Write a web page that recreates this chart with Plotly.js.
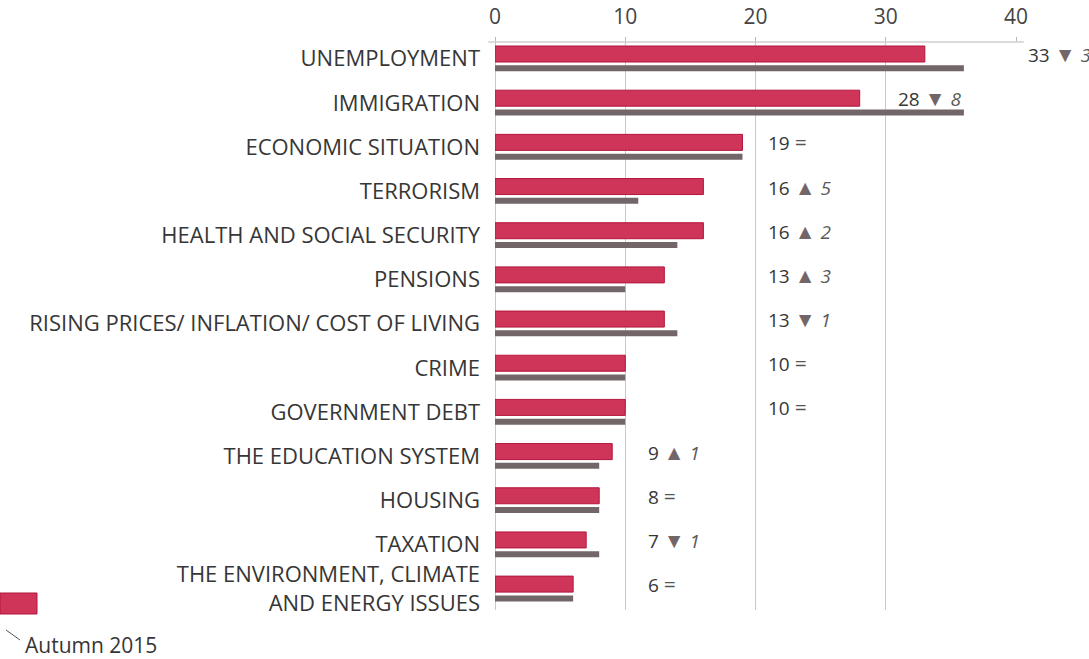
<!DOCTYPE html>
<html>
<head>
<meta charset="utf-8">
<script src="https://cdn.plot.ly/plotly-3.0.1.min.js"></script>
<style>html,body{margin:0;padding:0;background:#fff;}#chart{width:1089px;height:659px;}</style>
</head>
<body>
<div id="chart"></div>
<script>
// ---- data ----
const categories = [
  "UNEMPLOYMENT",
  "IMMIGRATION",
  "ECONOMIC SITUATION",
  "TERRORISM",
  "HEALTH AND SOCIAL SECURITY",
  "PENSIONS",
  "RISING PRICES/ INFLATION/ COST OF LIVING",
  "CRIME",
  "GOVERNMENT DEBT",
  "THE EDUCATION SYSTEM",
  "HOUSING",
  "TAXATION",
  "THE ENVIRONMENT, CLIMATE<br>AND ENERGY ISSUES"
];
const currentValues = [33, 28, 19, 16, 16, 13, 13, 10, 10, 9, 8, 7, 6];
const autumn2015Values = [36, 36, 19, 11, 14, 10, 14, 10, 10, 8, 8, 8, 6];
const xTicks = [0, 10, 20, 30, 40];
const legendLabel = "Autumn 2015";

// ---- style ----
const RED = "#cf3558";
const RED_EDGE = "#b3163d";
const GREY = "#726668";
const TEXT = "#363636";
const FONT = "Open Sans, sans-serif";
const X_MAX = 40;

const traces = [
  {
    type: "bar", orientation: "h",
    y: categories, x: currentValues,
    offset: -0.287, width: 0.362,
    marker: {color: RED, line: {color: RED_EDGE, width: 1}},
    hoverinfo: "x+y", showlegend: false
  },
  {
    type: "bar", orientation: "h",
    y: categories, x: autumn2015Values,
    offset: 0.149, width: 0.136,
    marker: {color: GREY, line: {width: 0}},
    hoverinfo: "x+y", showlegend: false
  }
];

// change annotations
const annotations = currentValues.map((v, i) => {
  const diff = v - autumn2015Values[i];
  let txt;
  if (diff === 0) {
    txt = v + ' <span style="color:#555;font-size:21px">=</span>';
  } else {
    const tri = diff > 0 ? "\u25B2" : "\u25BC";
    txt = v + ' <span style="color:' + GREY + ';font-size:21px">' + tri + '</span> <i><span style="color:#5a5a5a">' + Math.abs(diff) + '</span></i>';
  }
  const col = Math.floor(v / 10) * 10 + 10;
  const digits = String(v).length;
  return {
    xref: "paper", yref: "y",
    x: col / X_MAX, y: i - 0.106,
    xanchor: "left", yanchor: "middle",
    xshift: 10 + (2 - digits) * 11,
    text: txt, showarrow: false,
    font: {family: FONT, size: 19, color: TEXT}
  };
});

annotations.push({
  xref: "paper", yref: "paper",
  x: (23 - 495) / 521, y: (610 - 645) / 568,
  xanchor: "left", yanchor: "middle",
  text: legendLabel, showarrow: false,
  font: {family: FONT, size: 21, color: TEXT}
});

const shapes = [
  // top axis line
  {type: "line", xref: "paper", yref: "paper",
   x0: -0.013, x1: 1.015, y0: 1, y1: 1,
   line: {color: "#b9b4b4", width: 1}},
  // legend swatch (cropped)
  {type: "rect", xref: "paper", yref: "paper",
   x0: (0 - 495) / 521, x1: (37 - 495) / 521,
   y0: (610 - 614) / 568, y1: (610 - 593) / 568,
   fillcolor: RED, line: {color: RED_EDGE, width: 1}},
  {type: "line", xref: "paper", yref: "paper",
   x0: (6 - 495) / 521, y0: (610 - 630) / 568,
   x1: (20 - 495) / 521, y1: (610 - 640) / 568,
   line: {color: "#555", width: 1}}
];

const layout = {
  width: 1089, height: 659,
  margin: {l: 495, r: 73, t: 42, b: 49, pad: 0},
  paper_bgcolor: "#fff", plot_bgcolor: "#fff",
  barmode: "overlay",
  font: {family: FONT, color: TEXT},
  xaxis: {
    side: "top", range: [0, X_MAX],
    tickvals: xTicks, ticktext: xTicks.map(String),
    showgrid: true, gridcolor: "#cdc8c8", gridwidth: 1,
    zeroline: true, zerolinecolor: "#cdc8c8", zerolinewidth: 1,
    showline: false,
    ticks: "outside", ticklen: 4, tickcolor: "#b9b4b4",
    tickfont: {family: FONT, size: 21, color: "#444"},
    ticklabelstandoff: 5,
    fixedrange: true
  },
  yaxis: {
    type: "category",
    categoryorder: "array", categoryarray: categories,
    range: [12.48, -0.378], autorange: false,
    showgrid: false, zeroline: false, showline: false,
    ticks: "", ticklabelstandoff: 14,
    tickfont: {family: FONT, size: 22, color: TEXT},
    fixedrange: true
  },
  annotations: annotations,
  shapes: shapes
};

Plotly.newPlot("chart", traces, layout, {displayModeBar: false, staticPlot: true});
</script>
</body>
</html>
